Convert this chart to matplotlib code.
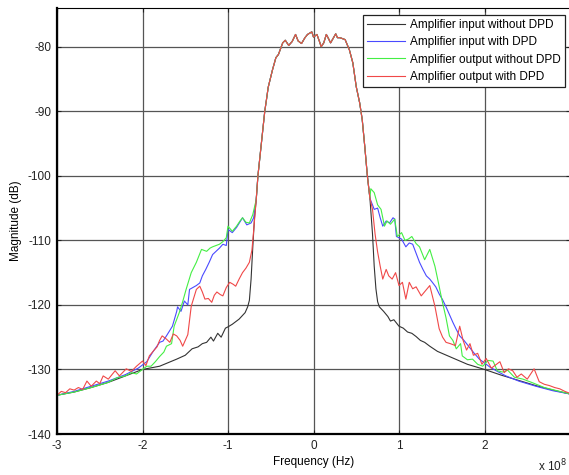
import numpy as np
import matplotlib
matplotlib.use("Agg")
import matplotlib.pyplot as plt

plt.rcParams['font.family'] = ['Liberation Sans', 'DejaVu Sans']
plt.rcParams['axes.unicode_minus'] = False

# Shared main lobe (frequency in units of 1e8 Hz, magnitude in dB)
main_f = [-0.67, -0.65, -0.61, -0.57, -0.55, -0.53, -0.48, -0.44, -0.41, -0.36, -0.33,
          -0.29, -0.25, -0.21, -0.18, -0.14, -0.10, -0.07, -0.02, 0.0, 0.04, 0.07, 0.09,
          0.12, 0.15, 0.17, 0.20, 0.26, 0.28, 0.31, 0.37, 0.42, 0.46, 0.50, 0.54, 0.57,
          0.60, 0.63, 0.66]
main_db = [-103.7, -100.0, -95.0, -90.0, -88.2, -86.3, -83.6, -81.7, -81.2, -79.4, -79.0,
           -79.8, -79.2, -78.1, -79.1, -79.5, -78.6, -78.1, -77.7, -78.5, -78.1, -79.2, -80.0,
           -79.4, -78.1, -78.6, -79.4, -78.0, -78.6, -78.6, -78.9, -80.5, -82.5, -86.2, -88.7, -91.3,
           -95.5, -100.0, -103.5]

# Amplifier input without DPD (black)
blk_left_f = [-3.0, -2.8, -2.6, -2.4, -2.2, -2.0, -1.8, -1.6, -1.5, -1.42, -1.35, -1.3, -1.25,
              -1.2, -1.17, -1.12, -1.08, -1.03, -1.0, -0.95, -0.9, -0.87, -0.8, -0.77, -0.75,
              -0.73, -0.71, -0.69]
blk_left_db = [-134.0, -133.5, -132.8, -132.0, -131.0, -130.0, -129.5, -128.4, -127.8, -126.8,
               -126.5, -126.0, -125.8, -125.0, -125.6, -124.4, -125.0, -123.6, -123.4, -123.0,
               -122.5, -122.2, -121.2, -120.3, -119.3, -116.0, -111.0, -106.5]
blk_right_f = [0.69, 0.71, 0.73, 0.75, 0.77, 0.82, 0.87, 0.90, 0.94, 1.0, 1.05, 1.1, 1.15, 1.2,
               1.25, 1.3, 1.36, 1.45, 1.59, 1.8, 2.0, 2.2, 2.4, 2.6, 2.8, 3.0]
blk_right_db = [-109.0, -114.0, -117.5, -119.5, -120.3, -121.0, -121.8, -122.5, -122.3, -123.3,
                -123.6, -124.2, -124.4, -124.9, -125.5, -125.8, -126.4, -127.2, -128.0, -129.2,
                -130.0, -130.9, -131.7, -132.5, -133.2, -133.8]

# Amplifier input with DPD (blue)
blu_left_f = [-3.0, -2.8, -2.6, -2.4, -2.2, -2.05, -1.95, -1.88, -1.8, -1.76, -1.72, -1.65, -1.6,
              -1.59, -1.55, -1.51, -1.47, -1.45, -1.37, -1.33, -1.3, -1.26, -1.22, -1.18, -1.14,
              -1.1, -1.06, -1.02, -1.0, -0.95, -0.9, -0.83, -0.78, -0.73, -0.70]
blu_left_db = [-134.0, -133.4, -132.6, -131.8, -130.8, -129.8, -128.8, -127.3, -125.8, -125.6,
               -124.8, -123.3, -121.0, -120.3, -121.0, -119.4, -120.0, -117.6, -117.0, -116.6,
               -115.5, -114.5, -113.4, -112.2, -111.7, -111.2, -110.6, -110.8, -108.3, -108.8,
               -108.0, -106.5, -107.6, -107.3, -106.5]
blu_right_f = [0.69, 0.71, 0.75, 0.78, 0.81, 0.85, 0.89, 0.93, 0.95, 0.97, 1.0, 1.03, 1.08, 1.12,
               1.16, 1.2, 1.24, 1.28, 1.32, 1.36, 1.39, 1.43, 1.47, 1.51, 1.55, 1.59, 1.63, 1.67,
               1.71, 1.76, 1.82, 1.88, 1.94, 2.0, 2.06, 2.15, 2.25, 2.4, 2.6, 2.8, 3.0]
blu_right_db = [-104.5, -105.2, -105.0, -106.5, -107.8, -107.0, -107.3, -106.5, -106.7, -109.4,
                -109.6, -109.8, -111.0, -110.4, -110.6, -112.0, -113.4, -114.5, -115.5, -116.0,
                -116.5, -117.2, -118.3, -119.2, -120.3, -121.5, -122.7, -123.8, -124.8, -125.5,
                -126.5, -127.5, -128.4, -129.0, -129.6, -130.3, -131.0, -131.8, -132.6, -133.3,
                -133.8]

# Amplifier output without DPD (green)
grn_left_f = [-3.0, -2.8, -2.6, -2.4, -2.3, -2.2, -2.13, -2.07, -2.0, -1.95, -1.9, -1.85, -1.8,
              -1.75, -1.72, -1.66, -1.63, -1.57, -1.53, -1.49, -1.43, -1.37, -1.31, -1.25, -1.21,
              -1.18, -1.14, -1.1, -1.06, -1.02, -1.0, -0.95, -0.9, -0.86, -0.83, -0.79, -0.75,
              -0.71]
grn_left_db = [-134.0, -133.5, -132.8, -132.0, -131.3, -131.0, -130.5, -130.7, -130.0, -129.5,
               -129.5, -128.8, -128.0, -127.3, -126.4, -126.0, -123.3, -121.2, -119.5, -117.6,
               -115.0, -113.4, -111.4, -111.7, -111.2, -111.0, -110.8, -110.6, -110.2, -109.6,
               -107.8, -108.6, -107.8, -107.0, -106.5, -107.2, -107.3, -106.0]
grn_right_f = [0.67, 0.71, 0.75, 0.79, 0.83, 0.86, 0.9, 0.95, 0.98, 1.03, 1.07, 1.11, 1.15, 1.2,
               1.24, 1.3, 1.36, 1.42, 1.46, 1.5, 1.55, 1.59, 1.63, 1.67, 1.72, 1.74, 1.8, 1.86,
               1.92, 1.98, 2.04, 2.1, 2.15, 2.21, 2.27, 2.35, 2.45, 2.55, 2.7, 2.85, 3.0]
grn_right_db = [-102.0, -102.6, -104.5, -105.2, -107.8, -107.0, -107.5, -106.7, -109.4, -108.8,
                -110.0, -109.8, -109.4, -110.5, -111.0, -113.0, -111.4, -114.0, -116.5, -119.1,
                -122.0, -124.8, -125.5, -126.8, -126.0, -127.9, -128.5, -128.4, -129.2, -129.5,
                -128.6, -128.7, -130.2, -130.4, -130.1, -131.2, -131.5, -132.0, -132.8, -133.3,
                -133.8]

# Amplifier output with DPD (red)
red_left_f = [-3.0, -2.95, -2.9, -2.85, -2.8, -2.75, -2.7, -2.65, -2.6, -2.54, -2.5, -2.46, -2.4,
              -2.32, -2.27, -2.19, -2.13, -2.07, -2.0, -1.96, -1.92, -1.87, -1.83, -1.8, -1.77,
              -1.72, -1.68, -1.64, -1.6, -1.56, -1.53, -1.5, -1.47, -1.43, -1.37, -1.33, -1.3,
              -1.27, -1.23, -1.19, -1.16, -1.13, -1.09, -1.06, -1.02, -0.98, -0.94, -0.91, -0.87,
              -0.83, -0.79, -0.75, -0.72, -0.70]
red_left_db = [-134.0, -133.4, -133.6, -133.0, -133.2, -132.8, -133.1, -131.8, -132.6, -131.8,
               -132.2, -131.0, -131.5, -130.2, -131.0, -129.9, -130.3, -129.5, -128.7, -129.4,
               -127.9, -127.1, -126.5, -125.5, -124.8, -125.3, -125.8, -124.5, -124.8, -125.5,
               -126.4, -125.5, -124.6, -120.2, -117.6, -117.1, -118.0, -119.1, -119.0, -119.6,
               -118.5, -118.0, -118.4, -118.6, -117.3, -116.5, -116.8, -117.1, -116.0, -115.0,
               -114.3, -113.4, -111.5, -108.5]
red_right_f = [0.67, 0.69, 0.72, 0.75, 0.78, 0.81, 0.85, 0.88, 0.92, 0.96, 1.0, 1.04, 1.08, 1.12,
               1.16, 1.2, 1.26, 1.31, 1.36, 1.42, 1.47, 1.51, 1.55, 1.6, 1.66, 1.71, 1.75, 1.79,
               1.83, 1.87, 1.92, 1.97, 2.02, 2.08, 2.14, 2.18, 2.23, 2.28, 2.33, 2.38, 2.43, 2.5,
               2.58, 2.64, 2.7, 2.76, 2.82, 2.88, 2.94, 3.0]
red_right_db = [-104.0, -105.2, -109.0, -111.8, -114.0, -116.0, -114.5, -115.5, -116.0, -115.0,
                -117.0, -116.5, -119.1, -116.5, -117.5, -117.2, -118.6, -117.8, -117.0, -120.2,
                -123.7, -125.0, -125.8, -126.0, -126.3, -123.3, -125.5, -127.0, -126.0, -127.8,
                -127.5, -129.2, -128.3, -129.8, -129.2, -128.8, -130.5, -129.9, -130.2, -131.2,
                -130.7, -131.5, -129.9, -131.9, -132.3, -132.5, -132.8, -133.0, -133.4, -133.7]

labels = ['Amplifier input without DPD', 'Amplifier input with DPD',
          'Amplifier output without DPD', 'Amplifier output with DPD']
colors = ['#333333', '#4a4aff', '#44ee44', '#f04848']
x_ticks = [-3, -2, -1, 0, 1, 2]
y_ticks = [-140, -130, -120, -110, -100, -90, -80]

series = [
    (blk_left_f, blk_left_db, blk_right_f, blk_right_db),
    (blu_left_f, blu_left_db, blu_right_f, blu_right_db),
    (grn_left_f, grn_left_db, grn_right_f, grn_right_db),
    (red_left_f, red_left_db, red_right_f, red_right_db),
]

W, H = 569, 475
fig = plt.figure(figsize=(W / 100, H / 100), dpi=100)
ax = fig.add_axes([57 / W, 1 - 434 / H, 513 / W, 426 / H])

for (lf, ld, rf, rd), lab, col in zip(series, labels, colors):
    f = np.concatenate([lf, main_f, rf])
    d = np.concatenate([ld, main_db, rd])
    ax.plot(f, d, color=col, lw=0.8, label=lab)

ax.set_xlim(-3, 3)
ax.set_ylim(-140, -74)
ax.set_xticks(x_ticks)
ax.set_xticklabels([str(t) for t in x_ticks])
ax.set_yticks(y_ticks)
ax.set_yticklabels([str(t) for t in y_ticks])
ax.grid(True, color='#555555', lw=0.9, ls='-')
ax.tick_params(direction='in', length=3, labelsize=8.5, colors='#222222',
               top=True, right=True, pad=4)
for s in ['left', 'bottom']:
    ax.spines[s].set_linewidth(1.6)
for s in ['top', 'right']:
    ax.spines[s].set_linewidth(0.8)

ax.set_xlabel('Frequency (Hz)', fontsize=8.5, labelpad=3)
ax.set_ylabel('Magnitude (dB)', fontsize=8.5, labelpad=4)
fig.text(538 / W, 1 - 466 / H, r'x 10$^8$', fontsize=8.5, ha='left', va='center',
         color='#222222')

leg = ax.legend(loc='upper right', bbox_to_anchor=(0.990, 0.984), fontsize=8.5,
                fancybox=False, framealpha=1, edgecolor='#222222', handlelength=3.2,
                borderpad=0.35, labelspacing=0.45, handletextpad=0.4, borderaxespad=0)
leg.get_frame().set_linewidth(0.9)

fig.savefig('out.png', dpi=100)
